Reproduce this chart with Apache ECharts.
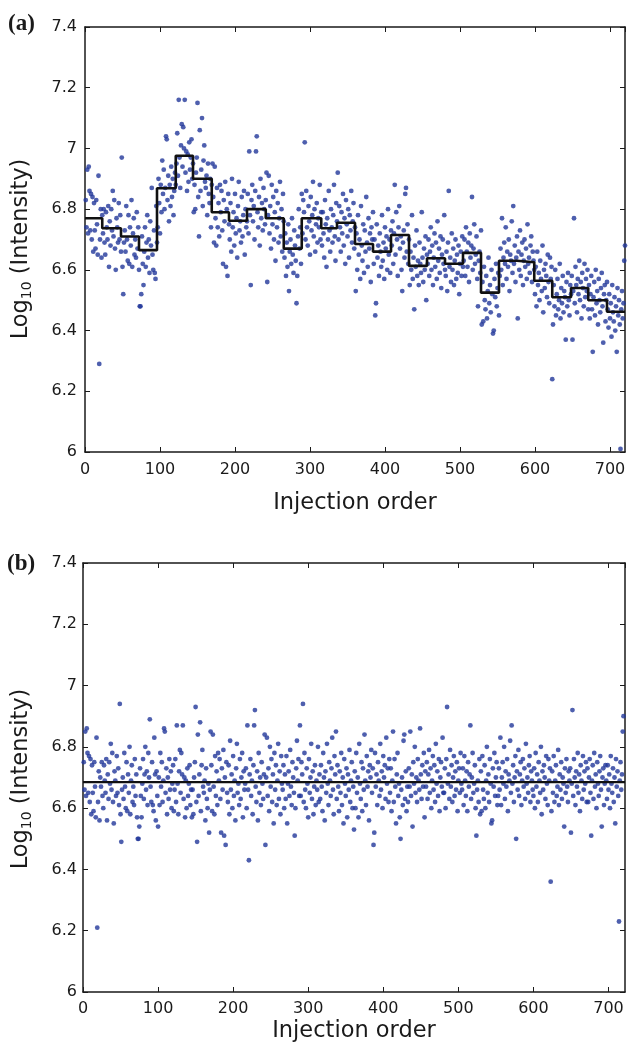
<!DOCTYPE html>
<html>
<head>
<meta charset="utf-8">
<script src="https://cdn.jsdelivr.net/npm/echarts@6/dist/echarts.min.js"></script>
<style>
html,body{margin:0;padding:0;background:#fff;}
#chart{width:628px;height:1056px;}
</style>
</head>
<body>
<div id="chart"></div>
<script>
// ---- Data ----
// Panel (a): raw log10 intensity per injection (injection order = index + 1)
const intensityA = [
6.83,6.74,6.93,6.72,6.94,6.86,6.73,6.85,6.70,6.84,6.66,6.82,6.73,6.67,6.83,6.75,6.65,6.91,6.29,6.70,6.80,6.64,6.78,
6.72,6.80,6.69,6.65,6.79,6.74,6.70,6.81,6.61,6.76,6.68,6.80,6.73,6.86,6.71,6.83,6.67,6.60,6.77,6.74,6.69,6.82,6.70,6.78,6.66,
6.97,6.61,6.52,6.69,6.73,6.66,6.81,6.70,6.63,6.78,6.62,6.74,6.68,6.83,6.61,6.72,6.77,6.65,6.70,6.64,6.79,6.67,6.74,6.60,
6.48,6.48,6.52,6.71,6.62,6.55,6.66,6.74,6.61,6.69,6.78,6.64,6.70,6.59,6.76,6.68,6.87,6.65,6.60,6.73,6.59,6.57,6.81,6.69,
6.74,6.90,6.82,6.72,6.88,6.79,6.96,6.85,6.93,6.80,6.87,7.04,7.03,6.83,6.91,6.76,6.88,6.81,6.94,6.84,6.90,6.78,6.86,6.92,
6.88,6.95,7.05,6.91,7.16,6.97,6.87,7.01,7.08,6.94,7.07,7.00,7.16,6.92,6.99,6.86,6.98,6.89,7.02,6.93,6.97,7.03,6.90,6.95,
6.79,6.88,6.80,6.92,6.97,7.15,6.84,6.71,7.06,6.86,6.93,7.10,6.81,6.96,7.01,6.89,6.87,6.91,6.78,6.95,6.85,6.82,6.90,6.74,6.88,
6.95,6.84,6.69,6.94,6.77,6.68,6.87,6.74,6.82,6.71,6.88,6.79,6.86,6.73,6.62,6.83,6.76,6.89,6.61,6.80,6.58,6.85,6.75,
6.70,6.82,6.66,6.90,6.74,6.79,6.68,6.85,6.72,6.77,6.64,6.81,6.89,6.73,6.76,6.69,6.84,6.71,6.78,6.86,6.65,6.80,6.74,6.76,
6.85,6.72,6.99,6.78,6.55,6.83,6.88,6.76,6.81,6.70,6.86,6.99,7.04,6.79,6.74,6.84,6.68,6.90,6.77,6.82,6.73,6.87,6.80,6.75,6.83,
6.92,6.56,6.78,6.91,6.72,6.81,6.67,6.88,6.75,6.84,6.70,6.79,6.63,6.86,6.74,6.82,6.69,6.77,6.89,6.71,6.80,6.66,6.85,6.76,
6.64,6.72,6.58,6.69,6.61,6.75,6.53,6.66,6.70,6.62,6.77,6.65,6.59,6.73,6.68,6.63,6.49,6.58,6.71,6.80,6.67,6.74,6.62,6.85,
6.72,6.83,6.79,7.02,6.70,6.86,6.74,6.68,6.81,6.76,6.65,6.84,6.73,6.78,6.89,6.71,6.80,6.66,6.75,6.82,6.69,6.77,6.74,6.88,6.70,6.79,
6.68,6.79,6.72,6.64,6.83,6.75,6.61,6.77,6.70,6.86,6.73,6.66,6.80,6.74,6.69,6.78,6.88,6.71,6.63,6.82,6.76,
6.92,6.70,6.81,6.74,6.66,6.79,6.72,6.85,6.68,6.77,6.62,6.83,6.75,6.71,6.80,6.64,6.78,6.73,6.86,6.69,6.76,6.82,6.67,6.74,
6.53,6.72,6.60,6.78,6.65,6.70,6.57,6.81,6.68,6.63,6.75,6.59,6.73,6.66,6.84,6.69,6.61,6.77,6.67,6.72,6.56,6.74,6.70,6.79,
6.62,6.70,6.45,6.49,6.75,6.64,6.68,6.58,6.72,6.66,6.61,6.78,6.63,6.69,6.57,6.74,6.67,6.71,6.60,6.80,6.65,6.70,6.59,6.73,
6.68,6.76,6.62,6.72,6.88,6.65,6.79,6.70,6.58,6.74,6.81,6.67,6.71,6.60,6.53,6.69,6.73,6.64,6.85,6.87,6.66,6.75,6.62,6.70,
6.55,6.66,6.60,6.78,6.57,6.64,6.47,6.68,6.61,6.73,6.58,6.63,6.55,6.69,6.62,6.59,6.79,6.64,6.56,6.67,6.60,6.71,6.50,6.65,
6.62,6.70,6.58,6.66,6.74,6.60,6.68,6.55,6.64,6.72,6.61,6.69,6.57,6.76,6.63,6.67,6.59,6.71,6.54,6.65,6.70,6.62,6.78,6.60,
6.58,6.66,6.53,6.69,6.86,6.61,6.64,6.56,6.72,6.60,6.67,6.55,6.63,6.70,6.57,6.65,6.59,6.68,6.52,6.62,6.66,6.58,6.71,6.61,
6.63,6.70,6.58,6.74,6.66,6.61,6.69,6.56,6.72,6.64,6.68,6.84,6.60,6.67,6.75,6.62,6.65,6.71,6.57,6.48,6.63,6.66,6.59,6.73,
6.42,6.56,6.43,6.61,6.50,6.47,6.58,6.44,6.53,6.64,6.49,6.55,6.46,6.60,6.52,6.39,6.40,6.57,6.51,6.62,6.48,6.54,6.59,6.45,
6.58,6.67,6.60,6.77,6.55,6.64,6.69,6.62,6.74,6.57,6.66,6.61,6.70,6.53,6.65,6.63,6.76,6.59,6.81,6.62,6.68,6.56,6.64,6.71,
6.44,6.66,6.60,6.73,6.58,6.65,6.69,6.55,6.63,6.70,6.61,6.67,6.57,6.75,6.62,6.64,6.59,6.68,6.71,6.56,6.66,6.63,6.60,
6.52,6.61,6.48,6.66,6.55,6.59,6.50,6.63,6.57,6.53,6.68,6.46,6.60,6.54,6.62,6.58,6.51,6.65,6.56,6.49,6.64,6.57,6.61,6.24,
6.42,6.55,6.48,6.60,6.45,6.52,6.57,6.47,6.50,6.62,6.44,6.54,6.49,6.58,6.46,6.53,6.51,6.37,6.56,6.48,6.59,6.50,6.45,6.55,6.52,
6.58,6.37,6.53,6.77,6.49,6.61,6.55,6.46,6.57,6.52,6.63,6.50,6.56,6.44,6.59,6.54,6.48,6.62,6.51,6.57,6.53,6.60,6.47,
6.55,6.44,6.52,6.58,6.47,6.33,6.51,6.56,6.45,6.60,6.49,6.53,6.42,6.57,6.50,6.46,6.54,6.59,6.48,6.36,6.52,6.55,6.43,6.50,6.56,
6.47,6.41,6.52,6.44,6.49,6.38,6.55,6.46,6.43,6.51,6.40,6.48,6.33,6.54,6.45,6.50,6.42,6.01,6.47,6.53,6.44,6.49,6.63,6.68
];

// Panel (a): batch boundaries (injection order) and batch mean levels (step line)
const batchEdges = [0,23,48,72,96,121,144,169,192,216,241,265,289,315,336,360,384,408,432,456,480,504,528,552,576,599,623,648,671,696,720];
const batchLevels = [6.77,6.737,6.71,6.665,6.869,6.976,6.90,6.79,6.762,6.80,6.77,6.67,6.77,6.737,6.755,6.685,6.66,6.715,6.613,6.638,6.62,6.656,6.525,6.63,6.625,6.564,6.51,6.54,6.50,6.462];

// Panel (b): corrected log10 intensity per injection
const intensityB = [
6.75,6.66,6.85,6.64,6.86,6.78,6.65,6.77,6.62,6.76,6.58,6.74,6.65,6.59,6.75,6.67,6.57,6.83,6.21,6.62,6.72,6.56,6.70,
6.67,6.75,6.64,6.60,6.74,6.69,6.65,6.76,6.56,6.71,6.63,6.75,6.68,6.81,6.66,6.78,6.62,6.55,6.72,6.69,6.64,6.77,6.65,6.73,6.61,
6.94,6.58,6.49,6.66,6.70,6.63,6.78,6.67,6.60,6.75,6.59,6.71,6.65,6.80,6.58,6.69,6.74,6.62,6.67,6.61,6.76,6.64,6.71,6.57,
6.50,6.50,6.54,6.73,6.64,6.57,6.68,6.76,6.63,6.71,6.80,6.66,6.72,6.61,6.78,6.70,6.89,6.67,6.62,6.75,6.61,6.59,6.83,6.71,
6.56,6.72,6.64,6.54,6.70,6.61,6.78,6.67,6.75,6.62,6.69,6.86,6.85,6.65,6.73,6.58,6.70,6.63,6.76,6.66,6.72,6.60,6.68,6.74,
6.59,6.66,6.76,6.62,6.87,6.68,6.58,6.72,6.79,6.65,6.78,6.71,6.87,6.63,6.70,6.57,6.69,6.60,6.73,6.64,6.68,6.74,6.61,6.66,
6.57,6.66,6.58,6.70,6.75,6.93,6.62,6.49,6.84,6.64,6.71,6.88,6.59,6.74,6.79,6.67,6.65,6.69,6.56,6.73,6.63,6.60,6.68,6.52,6.66,
6.85,6.74,6.59,6.84,6.67,6.58,6.77,6.64,6.72,6.61,6.78,6.69,6.76,6.63,6.52,6.73,6.66,6.79,6.51,6.70,6.48,6.75,6.65,
6.62,6.74,6.58,6.82,6.66,6.71,6.60,6.77,6.64,6.69,6.56,6.73,6.81,6.65,6.68,6.61,6.76,6.63,6.70,6.78,6.57,6.72,6.66,6.68,
6.73,6.60,6.87,6.66,6.43,6.71,6.76,6.64,6.69,6.58,6.74,6.87,6.92,6.67,6.62,6.72,6.56,6.78,6.65,6.70,6.61,6.75,6.68,6.63,6.71,
6.84,6.48,6.70,6.83,6.64,6.73,6.59,6.80,6.67,6.76,6.62,6.71,6.55,6.78,6.66,6.74,6.61,6.69,6.81,6.63,6.72,6.58,6.77,6.68,
6.66,6.74,6.60,6.71,6.63,6.77,6.55,6.68,6.72,6.64,6.79,6.67,6.61,6.75,6.70,6.65,6.51,6.60,6.73,6.82,6.69,6.76,6.64,6.87,
6.64,6.75,6.71,6.94,6.62,6.78,6.66,6.60,6.73,6.68,6.57,6.76,6.65,6.70,6.81,6.63,6.72,6.58,6.67,6.74,6.61,6.69,6.66,6.80,6.62,6.71,
6.63,6.74,6.67,6.59,6.78,6.70,6.56,6.72,6.65,6.81,6.68,6.61,6.75,6.69,6.64,6.73,6.83,6.66,6.58,6.77,6.71,
6.85,6.63,6.74,6.67,6.59,6.72,6.65,6.78,6.61,6.70,6.55,6.76,6.68,6.64,6.73,6.57,6.71,6.66,6.79,6.62,6.69,6.75,6.60,6.67,
6.53,6.72,6.60,6.78,6.65,6.70,6.57,6.81,6.68,6.63,6.75,6.59,6.73,6.66,6.84,6.69,6.61,6.77,6.67,6.72,6.56,6.74,6.70,6.79,
6.65,6.73,6.48,6.52,6.78,6.67,6.71,6.61,6.75,6.69,6.64,6.81,6.66,6.72,6.60,6.77,6.70,6.74,6.63,6.83,6.68,6.73,6.62,6.76,
6.65,6.73,6.59,6.69,6.85,6.62,6.76,6.67,6.55,6.71,6.78,6.64,6.68,6.57,6.50,6.66,6.70,6.61,6.82,6.84,6.63,6.72,6.59,6.67,
6.62,6.73,6.67,6.85,6.64,6.71,6.54,6.75,6.68,6.80,6.65,6.70,6.62,6.76,6.69,6.66,6.86,6.71,6.63,6.74,6.67,6.78,6.57,6.72,
6.67,6.75,6.63,6.71,6.79,6.65,6.73,6.60,6.69,6.77,6.66,6.74,6.62,6.81,6.68,6.72,6.64,6.76,6.59,6.70,6.75,6.67,6.83,6.65,
6.65,6.73,6.60,6.76,6.93,6.68,6.71,6.63,6.79,6.67,6.74,6.62,6.70,6.77,6.64,6.72,6.66,6.75,6.59,6.69,6.73,6.65,6.78,6.68,
6.66,6.73,6.61,6.77,6.69,6.64,6.72,6.59,6.75,6.67,6.71,6.87,6.63,6.70,6.78,6.65,6.68,6.74,6.60,6.51,6.66,6.69,6.62,6.76,
6.58,6.72,6.59,6.77,6.66,6.63,6.74,6.60,6.69,6.80,6.65,6.71,6.62,6.76,6.68,6.55,6.56,6.73,6.67,6.78,6.64,6.70,6.75,6.61,
6.64,6.73,6.66,6.83,6.61,6.70,6.75,6.68,6.80,6.63,6.72,6.67,6.76,6.59,6.71,6.69,6.82,6.65,6.87,6.68,6.74,6.62,6.70,6.77,
6.50,6.72,6.66,6.79,6.64,6.71,6.75,6.61,6.69,6.76,6.67,6.73,6.63,6.81,6.68,6.70,6.65,6.74,6.77,6.62,6.72,6.69,6.66,
6.64,6.73,6.60,6.78,6.67,6.71,6.62,6.75,6.69,6.65,6.80,6.58,6.72,6.66,6.74,6.70,6.63,6.77,6.68,6.61,6.76,6.69,6.73,6.36,
6.59,6.72,6.65,6.77,6.62,6.69,6.74,6.64,6.67,6.79,6.61,6.71,6.66,6.75,6.63,6.70,6.68,6.54,6.73,6.65,6.76,6.67,6.62,6.72,6.69,
6.73,6.52,6.68,6.92,6.64,6.76,6.70,6.61,6.72,6.67,6.78,6.65,6.71,6.59,6.74,6.69,6.63,6.77,6.66,6.72,6.68,6.75,6.62,
6.73,6.62,6.70,6.76,6.65,6.51,6.69,6.74,6.63,6.78,6.67,6.71,6.60,6.75,6.68,6.64,6.72,6.77,6.66,6.54,6.70,6.73,6.61,6.68,6.74,
6.69,6.63,6.74,6.66,6.71,6.60,6.77,6.68,6.65,6.73,6.62,6.70,6.55,6.76,6.67,6.72,6.64,6.23,6.69,6.75,6.66,6.71,6.85,6.90
];
// Panel (b): overall corrected mean level (horizontal line)
const correctedLevel = [6.685];

// Axis ranges / ticks
const xRangeA = [0, 720];
const xRangeB = [0, 722];
const xTickStep = 100;
const yRange = [6, 7.4];
const yTickStep = 0.2;

// ---- Chart ----
const FONT = 'DejaVu Sans';
const DOT = '#22379a';
const AX = '#1a1a1a';

function xAxisCfg(grid, range, pos, gapName, labelMargin) {
  const main = pos === 'bottom';
  return {
    type: 'value', gridIndex: grid, position: pos,
    min: range[0], max: range[1], interval: xTickStep,
    axisLine: { show: true, onZero: false, lineStyle: { color: AX, width: 1.5 } },
    axisTick: { show: true, inside: true, length: 5, lineStyle: { color: AX, width: 1 } },
    axisLabel: { show: main, fontFamily: FONT, fontSize: 16, color: '#1a1a1a', margin: labelMargin, showMaxLabel: false },
    splitLine: { show: false },
    name: main ? 'Injection order' : '',
    nameLocation: 'middle', nameGap: gapName,
    nameTextStyle: { fontFamily: FONT, fontSize: 22.5, color: '#1a1a1a' }
  };
}
function yAxisCfg(grid, pos, labelMargin) {
  const main = pos === 'left';
  return {
    type: 'value', gridIndex: grid, position: pos,
    min: yRange[0], max: yRange[1], interval: yTickStep,
    axisLine: { show: true, onZero: false, lineStyle: { color: AX, width: 1.5 } },
    axisTick: { show: true, inside: true, length: 5, lineStyle: { color: AX, width: 1 } },
    axisLabel: { show: main, fontFamily: FONT, fontSize: 16, color: '#1a1a1a', margin: labelMargin },
    splitLine: { show: false }
  };
}

const scatterA = intensityA.map((v, i) => [i + 1, v]);
const scatterB = intensityB.map((v, i) => [i + 1, v]);
const stepA = batchEdges.map((x, i) => [x, batchLevels[Math.min(i, batchLevels.length - 1)]]);
const lineB = [[xRangeB[0], correctedLevel[0]], [xRangeB[1], correctedLevel[0]]];

const yTitle = '{m|Log}{s|10}{m| (Intensity)}';
const yTitleRich = {
  m: { fontFamily: FONT, fontSize: 22.5, fill: '#1a1a1a', color: '#1a1a1a' },
  s: { fontFamily: FONT, fontSize: 14, fill: '#1a1a1a', color: '#1a1a1a', padding: [12, 0, 0, 0] }
};

const chart = echarts.init(document.getElementById('chart'), null, { renderer: 'canvas' });
chart.setOption({
  animation: false,
  backgroundColor: '#fff',
  grid: [
    { left: 85, top: 27, width: 540, height: 425, containLabel: false, outerBoundsMode: 'none' },
    { left: 83, top: 563, width: 542, height: 429, containLabel: false, outerBoundsMode: 'none' }
  ],
  xAxis: [
    xAxisCfg(0, xRangeA, 'bottom', 40, 10),
    xAxisCfg(0, xRangeA, 'top', 0, 0),
    xAxisCfg(1, xRangeB, 'bottom', 28, 9),
    xAxisCfg(1, xRangeB, 'top', 0, 0)
  ],
  yAxis: [
    yAxisCfg(0, 'left', 8),
    yAxisCfg(0, 'right', 0),
    yAxisCfg(1, 'left', 6),
    yAxisCfg(1, 'right', 0)
  ],
  graphic: [
    { type: 'text', left: 8, top: 13, style: { text: '(a)', fontFamily: 'Liberation Serif', fontWeight: 'bold', fontSize: 23, fill: '#1a1a1a' } },
    { type: 'text', left: 7, top: 553, style: { text: '(b)', fontFamily: 'Liberation Serif', fontWeight: 'bold', fontSize: 23, fill: '#1a1a1a' } },
    { type: 'text', x: 21, y: 249, rotation: Math.PI / 2, style: { text: yTitle, rich: yTitleRich, align: 'center', verticalAlign: 'middle', fill: '#1a1a1a' } },
    { type: 'text', x: 21, y: 779, rotation: Math.PI / 2, style: { text: yTitle, rich: yTitleRich, align: 'center', verticalAlign: 'middle', fill: '#1a1a1a' } }
  ],
  series: [
    { type: 'scatter', xAxisIndex: 0, yAxisIndex: 0, data: scatterA, symbolSize: 4.8, itemStyle: { color: DOT }, z: 2, silent: true },
    { type: 'line', xAxisIndex: 0, yAxisIndex: 0, data: stepA, step: 'end', showSymbol: false, lineStyle: { color: '#111', width: 2.6 }, z: 3, silent: true },
    { type: 'scatter', xAxisIndex: 2, yAxisIndex: 2, data: scatterB, symbolSize: 4.8, itemStyle: { color: DOT }, z: 2, silent: true },
    { type: 'line', xAxisIndex: 2, yAxisIndex: 2, data: lineB, showSymbol: false, lineStyle: { color: '#111', width: 2.2 }, z: 3, silent: true }
  ]
});
</script>
</body>
</html>
